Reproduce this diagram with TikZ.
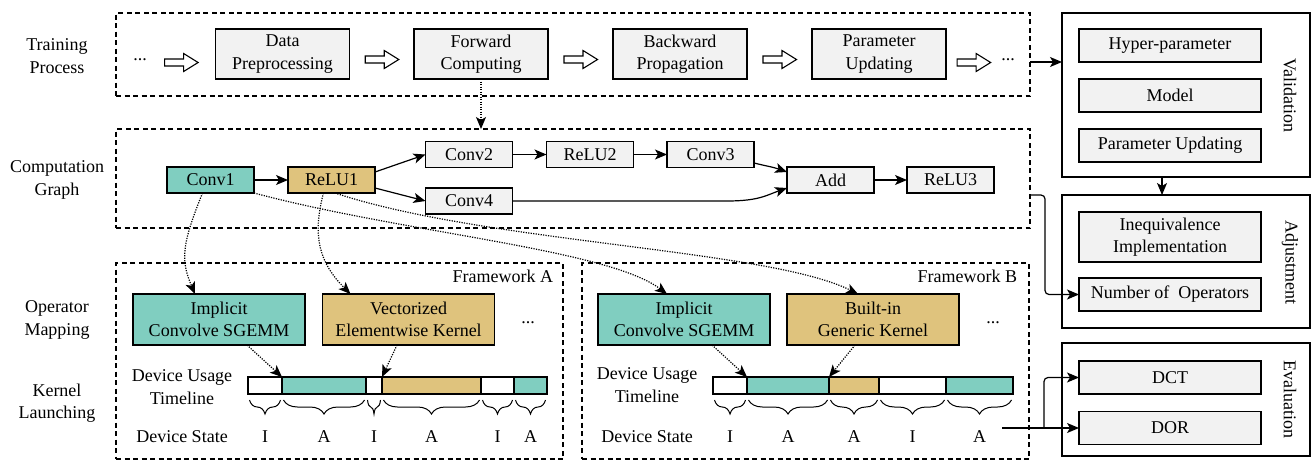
\documentclass[tikz,border=0pt]{standalone}
\usepackage{fontspec}
\setmainfont{Liberation Serif}
\usetikzlibrary{arrows.meta,calc,decorations.pathreplacing}
\definecolor{opteal}{RGB}{128,206,192}
\definecolor{optan}{RGB}{223,195,125}
\definecolor{boxgray}{RGB}{242,242,242}
\begin{document}
\begin{tikzpicture}[x=1pt,y=-1pt,
  font=\fontsize{18}{22.5}\selectfont,
  every node/.style={inner sep=0pt, outer sep=0pt},
  >={Stealth[length=12pt,width=10pt,inset=3pt]},
  lbl/.style={align=center},
  container/.style={draw, line width=1.1pt, dash pattern=on 5pt off 3.5pt},
  panel/.style={draw, line width=1.2pt, minimum width=248pt},
  stepbox/.style={draw, line width=1.2pt, fill=boxgray, align=center, minimum width=134pt, minimum height=50pt},
  opnode/.style={draw, line width=1.2pt, fill=boxgray, minimum width=87pt, minimum height=26pt},
  itembox/.style={draw, line width=1.2pt, fill=boxgray, align=center, minimum width=182pt, minimum height=33pt},
  kernbox/.style={draw, line width=1.2pt, align=center, minimum width=172pt, minimum height=51pt},
  seg/.style={draw, line width=1.2pt, minimum height=17pt},
  flow/.style={->, line width=1.2pt},
  map/.style={->, line width=1.2pt, dash pattern=on 1.2pt off 1.3pt},
  stategap/.style={decorate, line width=1pt, decoration={brace, mirror, amplitude=14pt}},
  hollow/.pic={\draw[line width=1.1pt, fill=white] (-16.5,-3.5) -- (2.5,-3.5) -- (2.5,-9) -- (17,0) -- (2.5,9) -- (2.5,3.5) -- (-16.5,3.5) -- cycle;}
]
\useasboundingbox (0,0) rectangle (1313,461);

% row labels
\node[lbl] (ltrain) at (57,56) {Training\\Process};
\node[lbl] (lcomp) at (57,180) {Computation\\Graph};
\node[lbl] (lop) at (57,320) {Operator\\Mapping};
\node[lbl] (lkern) at (57,403) {Kernel\\Launching};

% dashed containers
\node[container, minimum width=914pt, minimum height=83pt] (train) at (573,54.5) {};
\node[container, minimum width=914pt, minimum height=99pt] (comp) at (573,178.5) {};
\node[container, minimum width=447pt, minimum height=196pt] (fwa) at (339.5,361) {};
\node[container, minimum width=447pt, minimum height=196pt] (fwb) at (805.5,361) {};

% training process
\node (tdots0) at (140,60) {...};
\node[stepbox] (dp) at (282.5,54) {Data\\Preprocessing};
\node[stepbox] (fc) at (481,54) {Forward\\Computing};
\node[stepbox] (bp) at (680,54) {Backward\\Propagation};
\node[stepbox] (pu) at (879,54) {Parameter\\Updating};
\node (tdots1) at (1008,60) {...};
\pic at ($(tdots0.east)!0.5!(dp.west)+(0,5.5)$) {hollow};
\pic at ($(dp.east)!0.5!(fc.west)+(0,5.5)$) {hollow};
\pic at ($(fc.east)!0.5!(bp.west)+(0,5.5)$) {hollow};
\pic at ($(bp.east)!0.5!(pu.west)+(0,5.5)$) {hollow};
\pic at ($(pu.east)!0.5!(tdots1.west)+(0,5.5)$) {hollow};

% validation / adjustment / evaluation panels
\node[panel, minimum height=164pt] (valid) at (1186,95) {};
\node[itembox] (hyper) at (1170,45.5) {Hyper-parameter};
\node[itembox] (model) at (1170,95.5) {Model};
\node[itembox] (pupd) at (1170,145.5) {Parameter Updating};
\node[rotate=-90] (lvalid) at (1290,95) {Validation};

\node[panel, minimum height=133pt] (adjust) at (1186,261.5) {};
\node[itembox, minimum height=50pt] (ineq) at (1170,237) {Inequivalence\\Implementation};
\node[itembox] (nops) at (1170,294.5) {Number of~ Operators};
\node[rotate=-90] (ladjust) at (1290,262) {Adjustment};

\node[panel, minimum height=113pt] (evalp) at (1186,399.5) {};
\node[itembox] (dct) at (1170,377.5) {DCT};
\node[itembox] (dor) at (1170,428) {DOR};
\node[rotate=-90] (leval) at (1290,399.5) {Evaluation};

% computation graph
\node[opnode, fill=opteal] (conv1) at (210.5,180) {Conv1};
\node[opnode, fill=optan] (relu1) at (331.5,180) {ReLU1};
\node[opnode] (conv2) at (469,154.5) {Conv2};
\node[opnode] (relu2) at (590,154.5) {ReLU2};
\node[opnode] (conv3) at (710.5,154.5) {Conv3};
\node[opnode] (conv4) at (469,201) {Conv4};
\node[opnode] (add) at (830.5,180) {Add};
\node[opnode] (relu3) at (950.5,180) {ReLU3};

\draw[flow] (conv1.east) -- (relu1.west);
\draw[flow] ([yshift=8pt]relu1.east) -- (conv2.west);
\draw[flow] ([yshift=-8pt]relu1.east) -- (conv4.west);
\draw[flow] (conv2.east) -- (relu2.west);
\draw[flow] (relu2.east) -- (conv3.west);
\draw[flow] ([yshift=-8.5pt]conv3.east) .. controls +(12,3) and +(-14,-5) .. ([yshift=8pt]add.west);
\path (conv4.east -| add.west) ++(-60,0) coordinate (c4bend);
\draw[flow] (conv4.east) -- (c4bend) .. controls +(32,0) and +(-20,7) .. ([yshift=-8pt]add.west);
\draw[flow] (add.east) -- (relu3.west);

% framework A
\node[anchor=east] (fwalabel) at (553,276) {Framework A};
\node[kernbox, fill=opteal] (ia) at (219,319.5) {Implicit\\Convolve SGEMM};
\node[kernbox, fill=optan] (va) at (408.5,319.5) {Vectorized\\Elementwise Kernel};
\node (adots) at (528,323) {...};
\node[lbl] (dua) at (182,387) {Device Usage\\Timeline};
\node (dsa) at (182,437) {Device State};

% framework B
\node[anchor=east] (fwblabel) at (1017,276) {Framework B};
\node[kernbox, fill=opteal] (ib) at (684,319.5) {Implicit\\Convolve SGEMM};
\node[kernbox, fill=optan] (gb) at (873,319.5) {Built-in\\Generic Kernel};
\node (bdots) at (993,323) {...};
\node[lbl] (dub) at (647,385) {Device Usage\\Timeline};
\node (dsb) at (647,437) {Device State};

% device usage timelines, braces and device states
\foreach \nm/\l/\r/\c/\s in {a1/248/282/white/I, a2/282/366/opteal/A, a3/366/382/white/I,
    a4/382/481/optan/A, a5/481/514/white/I, a6/514/547/opteal/A,
    b1/713/747/white/I, b2/747/829/opteal/A, b3/829/879/optan/A,
    b4/879/946/white/I, b5/946/1013/opteal/A}{
  \pgfmathsetmacro\w{\r-\l}
  \pgfmathsetmacro\cx{(\l+\r)/2}
  \node[seg, fill=\c, minimum width=\w pt] (\nm) at (\cx,385.5) {};
  \draw[stategap] (\l+1.5,400) -- (\r-1.5,400);
  \node (s\nm) at (\cx,437) {\s};
}

% operator mapping links
\draw[map] (fc.south) -- (fc.south |- comp.north);
\draw[map] ([xshift=-8pt]conv1.south) .. controls +(-20,50) and +(-15,-35) .. ([xshift=-24pt]ia.north);
\draw[map] ([xshift=-8pt]relu1.south) .. controls +(-12,45) and +(-30,-30) .. ([xshift=-58pt]va.north);
\draw[map] (conv1.south east) .. controls +(150,40) and +(-60,-45) .. ([xshift=-17pt]ib.north);
\draw[map] ([xshift=3.5pt]relu1.south) .. controls +(150,50) and +(-90,-45) .. ([xshift=-15pt]gb.north);

% kernel launching links
\draw[map] ([xshift=28pt]ia.south) -- (a2.north west);
\draw[map] ([xshift=-11.5pt]va.south) -- (a4.north west);
\draw[map] ([xshift=28pt]ib.south) -- (b2.north west);
\draw[map] ([xshift=-18pt]gb.south) -- (b3.north west);

% links to the right-hand panels
\path (train.east) ++(0,7.5) coordinate (tv);
\draw[flow] (tv) -- (tv -| valid.west);
\draw[flow] ([xshift=-24pt]valid.south) -- ([xshift=-24pt]adjust.north);
\path (comp.east) ++(0,16.5) coordinate (cn);
\draw[flow, rounded corners=4pt] (cn) -- ++(15,0) |- (nops.west);
\coordinate (stateout) at (1002,428);
\coordinate (split) at (1044,428);
\draw[flow] (stateout) -- (dor.west);
\draw[flow, rounded corners=4pt] (split) |- (dct.west);
\end{tikzpicture}
\end{document}
